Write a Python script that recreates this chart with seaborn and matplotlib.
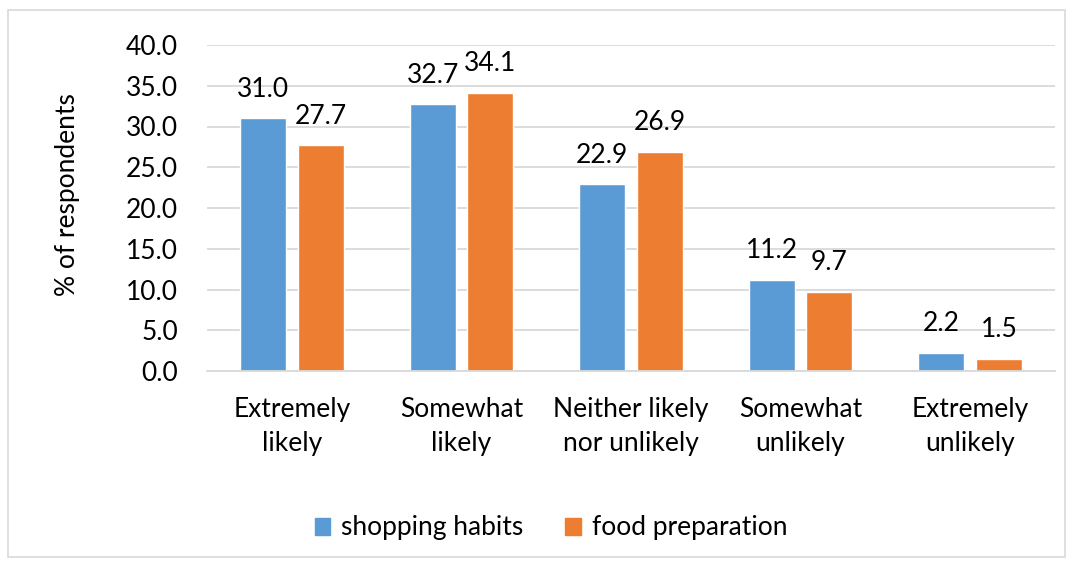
import matplotlib
matplotlib.use("Agg")
import matplotlib.pyplot as plt
import seaborn as sns
import pandas as pd
from matplotlib.patches import Rectangle

categories = ["Extremely\nlikely", "Somewhat\nlikely", "Neither likely\nnor unlikely",
              "Somewhat\nunlikely", "Extremely\nunlikely"]
shopping_habits = [31.0, 32.7, 22.9, 11.2, 2.2]
food_preparation = [27.7, 34.1, 26.9, 9.7, 1.5]
series_names = ["shopping habits", "food preparation"]
y_ticks = [0, 5, 10, 15, 20, 25, 30, 35, 40]

df = pd.DataFrame({
    "category": categories * 2,
    "value": shopping_habits + food_preparation,
    "series": [series_names[0]] * 5 + [series_names[1]] * 5,
})

sns.set_theme(style="white")
plt.rcParams["font.family"] = ["Lato", "DejaVu Sans"]
plt.rcParams["text.color"] = "black"
plt.rcParams["axes.labelcolor"] = "black"
FS = 19

fig = plt.figure(figsize=(10.73, 5.65), dpi=100)
ax = fig.add_axes([207 / 1073, 1 - 371 / 565, (1055 - 207) / 1073, (371 - 45) / 565])

palette = {series_names[0]: "#5B9BD5", series_names[1]: "#ED7D31"}
sns.barplot(data=df, x="category", y="value", hue="series", palette=palette,
            width=0.68, gap=0.2, ax=ax, legend=False, saturation=1)

ax.set_ylim(0, 40)
ax.set_yticks(y_ticks)
ax.set_yticklabels([f"{t:.1f}" for t in y_ticks])
ax.yaxis.grid(True, color="#d9d9d9", linewidth=1.3)
ax.set_axisbelow(True)
for s in ["top", "right", "left"]:
    ax.spines[s].set_visible(False)
ax.spines["bottom"].set_color("#d9d9d9")
ax.spines["bottom"].set_linewidth(1.3)
ax.tick_params(axis="both", length=0, labelsize=FS, colors="black")
ax.tick_params(axis="y", pad=21)
ax.tick_params(axis="x", pad=19)
for lab in ax.get_xticklabels():
    lab.set_linespacing(1.45)
ax.set_xlabel("")
ax.set_ylabel("% of respondents", fontsize=FS, color="black", va="center")
ax.yaxis.set_label_coords((68 - 207) / 848, (371 - 195) / 326)

for cont in ax.containers:
    ax.bar_label(cont, fmt="%.1f", padding=12, fontsize=FS, color="black")

handles = [Rectangle((0, 0), 1, 1, color=palette[n]) for n in series_names]
fig.legend(handles, series_names, loc="center", bbox_to_anchor=(551 / 1073, 1 - 528 / 565),
           ncol=2, frameon=False, fontsize=FS, handlelength=0.6, handleheight=0.6,
           handletextpad=0.4, columnspacing=1.6, labelcolor="black")

fig.patches.append(Rectangle((8 / 1073, 8 / 565), 1057 / 1073, 547 / 565, transform=fig.transFigure,
                             fill=False, edgecolor="#d9d9d9", linewidth=1.2))

fig.savefig("out.png", dpi=100, facecolor="white")
